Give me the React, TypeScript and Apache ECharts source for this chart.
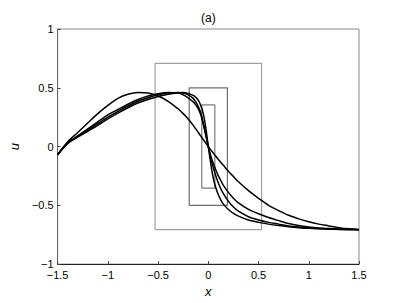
import React, { useEffect, useRef } from "react";
import * as echarts from "echarts";

const xs = [-1.5,-1.4,-1.3,-1.2,-1.1,-1.0,-0.9,-0.8,-0.7,-0.6,-0.5,-0.4,-0.3,-0.25,-0.2,-0.15,-0.125,-0.1,-0.075,-0.05,-0.025,0,0.025,0.05,0.075,0.1,0.125,0.15,0.2,0.25,0.3,0.4,0.5,0.6,0.7,0.8,0.9,1.0,1.1,1.2,1.3,1.4,1.5];

const curveA = [-0.07,0.04,0.12,0.2,0.28,0.35,0.41,0.445,0.46,0.455,0.43,0.385,0.32,0.28,0.235,0.18,0.15,0.12,0.09,0.06,0.03,0,-0.028,-0.055,-0.083,-0.11,-0.135,-0.16,-0.21,-0.255,-0.3,-0.375,-0.44,-0.5,-0.545,-0.585,-0.615,-0.64,-0.66,-0.675,-0.69,-0.7,-0.705];
const curveB = [-0.07,0.03,0.09,0.15,0.21,0.27,0.315,0.36,0.4,0.43,0.45,0.46,0.455,0.44,0.415,0.38,0.355,0.32,0.27,0.19,0.1,0,-0.08,-0.145,-0.2,-0.25,-0.29,-0.33,-0.39,-0.44,-0.48,-0.535,-0.572,-0.603,-0.63,-0.655,-0.672,-0.684,-0.693,-0.698,-0.702,-0.705,-0.707];
const curveC = [-0.07,0.03,0.085,0.14,0.195,0.25,0.3,0.345,0.385,0.415,0.44,0.455,0.46,0.455,0.44,0.41,0.38,0.34,0.285,0.2,0.1,0,-0.1,-0.18,-0.25,-0.31,-0.36,-0.4,-0.465,-0.515,-0.55,-0.597,-0.625,-0.645,-0.66,-0.675,-0.685,-0.693,-0.698,-0.702,-0.704,-0.706,-0.707];
const curveD = [-0.07,0.025,0.08,0.13,0.18,0.235,0.285,0.33,0.37,0.4,0.425,0.445,0.458,0.46,0.452,0.435,0.42,0.395,0.35,0.28,0.16,0,-0.15,-0.27,-0.35,-0.41,-0.455,-0.49,-0.535,-0.568,-0.592,-0.625,-0.645,-0.66,-0.672,-0.682,-0.69,-0.696,-0.7,-0.703,-0.705,-0.706,-0.707];

const rectHalfW = [0.53, 0.19, 0.065];
const rectHalfH = [0.707, 0.5, 0.354];
const rectColors = ["#a0a0a0", "#6e6e6e", "#7a7a7a"];

const fmt = (v: number) => (v < 0 ? "\u2212" + String(-v) : String(v));

export default function App() {
  const ref = useRef<HTMLDivElement>(null);
  useEffect(() => {
    if (!ref.current) return;
    const chart = echarts.init(ref.current, null, { renderer: "svg" });
    const curves = [curveA, curveB, curveC, curveD];
    const rectSeries = rectHalfW.map((w, i) => ({
      type: "line",
      data: [[-w, -rectHalfH[i]], [-w, rectHalfH[i]], [w, rectHalfH[i]], [w, -rectHalfH[i]], [-w, -rectHalfH[i]]],
      showSymbol: false,
      lineStyle: { color: rectColors[i], width: 1.2 },
      z: 1,
    }));
    const curveSeries = curves.map((c) => ({
      type: "line",
      data: xs.map((x, j) => [x, c[j]]),
      showSymbol: false,
      smooth: 0.3,
      lineStyle: { color: "#000", width: 1.5 },
      z: 3,
    }));
    chart.setOption({
      animation: false,
      title: {
        text: "(a)",
        left: 196,
        top: 7,
        textStyle: { fontFamily: "Liberation Sans", fontWeight: "normal", fontSize: 12, color: "#000" },
      },
      grid: { left: 56, right: 37, top: 29, bottom: 37, show: true, borderColor: "#8a8a8a", borderWidth: 1 },
      xAxis: {
        type: "value",
        min: -1.5,
        max: 1.5,
        interval: 0.5,
        name: "x",
        nameLocation: "middle",
        nameGap: 20,
        nameTextStyle: { fontFamily: "Liberation Sans", fontStyle: "italic", fontSize: 13, color: "#000" },
        axisLine: { onZero: false, lineStyle: { color: "#222", width: 1 } },
        axisTick: { inside: true, length: 3, lineStyle: { color: "#444" } },
        axisLabel: { margin: 5, fontFamily: "Liberation Sans", fontSize: 11, color: "#000", formatter: (v: number) => fmt(v) },
        splitLine: { show: false },
      },
      yAxis: {
        type: "value",
        min: -1,
        max: 1,
        interval: 0.5,
        name: "u",
        nameLocation: "middle",
        nameGap: 36,
        nameTextStyle: { fontFamily: "Liberation Sans", fontStyle: "italic", fontSize: 13, color: "#000" },
        axisLine: { show: true, onZero: false, lineStyle: { color: "#666", width: 1 } },
        axisTick: { show: true, inside: true, length: 3, lineStyle: { color: "#444" } },
        axisLabel: { margin: 4, fontFamily: "Liberation Sans", fontSize: 11, color: "#000", formatter: (v: number) => fmt(v) },
        splitLine: { show: false },
      },
      series: [...rectSeries, ...curveSeries],
    });
    return () => chart.dispose();
  }, []);
  return <div ref={ref} style={{ width: 396, height: 303, position: "absolute", left: 0, top: 0 }} />;
}
